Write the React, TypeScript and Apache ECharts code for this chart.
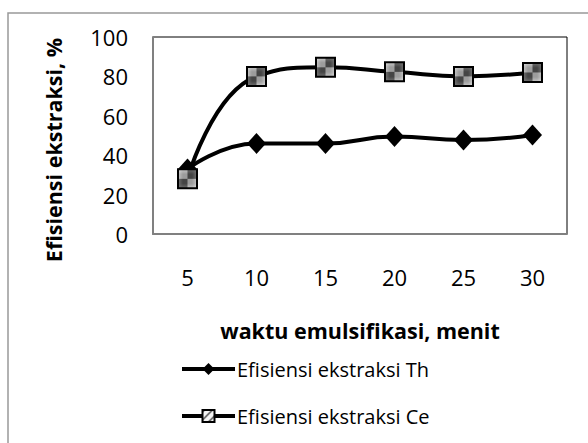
import React, { useEffect, useRef } from "react";
import * as echarts from "echarts";

const categories = ["5", "10", "15", "20", "25", "30"];
const thValues = [33, 46, 46, 49.5, 47.7, 50.3];
const ceValues = [28, 80, 84.6, 82.3, 80, 82];
const seriesNames = ["Efisiensi ekstraksi Th", "Efisiensi ekstraksi Ce"];
const xTitle = "waktu emulsifikasi, menit";
const yTitle = "Efisiensi ekstraksi, %";

function makeHatch(): string {
  const s = 8;
  const c = document.createElement("canvas");
  c.width = s;
  c.height = s;
  const ctx = c.getContext("2d");
  if (ctx) {
    ctx.fillStyle = "#f4f4f4";
    ctx.fillRect(0, 0, s, s);
    ctx.strokeStyle = "#444";
    ctx.lineWidth = 1.4;
    ctx.beginPath();
    for (let k = -1; k <= 1; k++) {
      ctx.moveTo(k * s - 1, s + 1);
      ctx.lineTo(k * s + s + 1, -1);
    }
    ctx.stroke();
  }
  return c.toDataURL();
}

export default function App() {
  const ref = useRef<HTMLDivElement>(null);
  useEffect(() => {
    if (!ref.current) return;
    const chart = echarts.init(ref.current, undefined, { renderer: "svg" });
    const hatch = { image: makeHatch(), repeat: "repeat" } as any;
    const font = "'Open Sans', Lato, sans-serif";
    chart.setOption({
      animation: false,
      backgroundColor: "#ffffff",
      textStyle: { fontFamily: font, color: "#000" },
      grid: {
        left: 153,
        right: 21,
        top: 37,
        bottom: 209,
        show: true,
        borderColor: "#000",
        borderWidth: 1,
      },
      xAxis: {
        type: "category",
        data: categories,
        boundaryGap: true,
        axisLine: { show: true, lineStyle: { color: "#808080", width: 2 } },
        axisTick: { show: false },
        axisLabel: { fontSize: 22, color: "#000", margin: 32, fontFamily: font },
        splitLine: { show: false },
      },
      yAxis: {
        type: "value",
        min: 0,
        max: 100,
        interval: 20,
        axisLine: { show: true, lineStyle: { color: "#808080", width: 2 } },
        axisTick: { show: false },
        axisLabel: { fontSize: 22, color: "#000", margin: 25, fontFamily: font },
        splitLine: { show: false },
      },
      legend: {
        orient: "vertical",
        left: 175,
        top: 354,
        itemWidth: 53,
        itemHeight: 15,
        itemGap: 27,
        lineStyle: { width: 4, color: "#000" },
        textStyle: { fontSize: 20, color: "#000", fontFamily: font, padding: [0, 0, 0, -3] },
        data: seriesNames,
      },
      graphic: [
        {
          type: "polyline",
          shape: { points: [[8, 443], [8, 13], [588, 13]] },
          style: { stroke: "#999", lineWidth: 1.5, fill: null },
          silent: true,
        },
        {
          type: "text",
          x: 53,
          y: 150,
          rotation: Math.PI / 2,
          style: {
            text: yTitle,
            fontSize: 21.5,
            fontWeight: "bold",
            fontFamily: font,
            fill: "#000",
            align: "center",
            verticalAlign: "middle",
          },
        },
        {
          type: "text",
          x: 360,
          y: 330,
          style: {
            text: xTitle,
            fontSize: 21.5,
            fontWeight: "bold",
            fontFamily: font,
            fill: "#000",
            align: "center",
            verticalAlign: "middle",
          },
        },
      ],
      series: [
        {
          name: seriesNames[0],
          type: "line",
          data: thValues,
          smooth: 0.5,
          symbol: "diamond",
          symbolSize: [19, 21],
          lineStyle: { color: "#000", width: 4 },
          itemStyle: { color: "#000", borderColor: "#000", borderWidth: 0 },
          z: 2,
        },
        {
          name: seriesNames[1],
          type: "line",
          data: ceValues,
          smooth: 0.5,
          symbol: "rect",
          symbolSize: 19,
          lineStyle: { color: "#000", width: 4 },
          itemStyle: { color: hatch, borderColor: "#000", borderWidth: 2 },
          z: 3,
        },
      ],
    });
    return () => chart.dispose();
  }, []);
  return <div ref={ref} style={{ width: 588, height: 443, position: "absolute", left: 0, top: 0 }} />;
}
